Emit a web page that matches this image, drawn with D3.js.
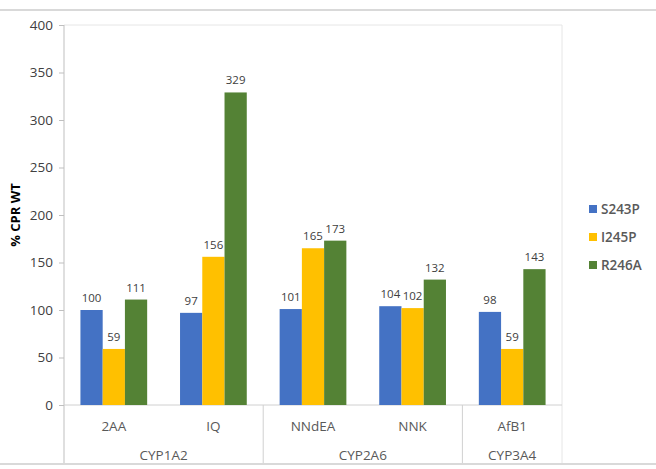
<!DOCTYPE html>
<html>
<head>
<meta charset="utf-8">
<script src="https://cdn.jsdelivr.net/npm/d3@7"></script>
<style>
  body { margin: 0; background: #fff; }
  text { font-family: "Open Sans", "Noto Sans", sans-serif; }
</style>
</head>
<body>
<div id="chart"></div>
<script>
// chart data
var substrates = ['2AA', 'IQ', 'NNdEA', 'NNK', 'AfB1'];
var enzymes = ['CYP1A2', 'CYP1A2', 'CYP2A6', 'CYP2A6', 'CYP3A4'];
var seriesNames = ['S243P', 'I245P', 'R246A'];
var s243p = [100, 97, 101, 104, 98];
var i245p = [59, 156, 165, 102, 59];
var r246a = [111, 329, 173, 132, 143];
var yTicks = [0, 50, 100, 150, 200, 250, 300, 350, 400];
var colors = ['#4472C4', '#FFC000', '#548235'];

function drawChart() {
	var W = 656, H = 469;
	var left = 64, right = 562, top = 25, bottom = 405, axisBottom = 463;

	var svg = d3.select('#chart').append('svg')
		.attr('width', W)
		.attr('height', H);

	// frame lines of the screenshot
	svg.append('line').attr('x1', 0).attr('x2', W).attr('y1', 10).attr('y2', 10)
		.style('stroke', '#d9d9d9').style('stroke-width', 2);
	svg.append('line').attr('x1', 0).attr('x2', W).attr('y1', 464).attr('y2', 464)
		.style('stroke', '#d9d9d9').style('stroke-width', 2);

	var x0 = d3.scaleBand().domain(substrates).range([left, right]).paddingInner(0.33).paddingOuter(0.165);
	var x1 = d3.scaleBand().domain(seriesNames).range([0, x0.bandwidth()]);
	var y = d3.scaleLinear().domain([0, 400]).range([bottom, top]);

	// plot border (top / right)
	svg.append('path')
		.attr('d', 'M' + left + ',' + top + 'H' + right + 'V' + axisBottom)
		.style('fill', 'none').style('stroke', '#e6e6e6');

	// y axis
	var yAxis = svg.append('g')
		.attr('transform', 'translate(' + left + ',0)')
		.call(d3.axisLeft(y).tickValues(yTicks).tickSize(5).tickPadding(6));
	yAxis.select('.domain').remove();
	yAxis.selectAll('line').style('stroke', '#bfbfbf');
	yAxis.selectAll('text').style('font-size', '13.5px').style('fill', '#404040');
	svg.append('line').attr('x1', left).attr('x2', left).attr('y1', top).attr('y2', axisBottom)
		.style('stroke', '#bfbfbf');
	svg.append('line').attr('x1', left).attr('x2', right).attr('y1', bottom).attr('y2', bottom)
		.style('stroke', '#d0d0d0');

	svg.append('text')
		.attr('transform', 'translate(20,' + ((top + bottom) / 2) + ') rotate(-90)')
		.attr('text-anchor', 'middle')
		.style('font-size', '13px').style('font-weight', 'bold').style('fill', '#000')
		.text('% CPR WT');

	// bars
	var rows = substrates.map(function(s, i) {
		return { name: s, vals: [s243p[i], i245p[i], r246a[i]] };
	});
	var groups = svg.selectAll('.grp')
		.data(rows)
		.enter()
		.append('g')
			.attr('class', 'grp')
			.attr('transform', function(d) { return 'translate(' + x0(d.name) + ',0)'; });

	groups.selectAll('rect')
		.data(function(d) { return d.vals.map(function(v, j) { return { k: seriesNames[j], v: v, j: j }; }); })
		.enter()
		.append('rect')
			.attr('x', function(d) { return x1(d.k); })
			.attr('y', function(d) { return y(d.v); })
			.attr('width', x1.bandwidth())
			.attr('height', function(d) { return bottom - y(d.v); })
			.style('fill', function(d) { return colors[d.j]; });

	groups.selectAll('.lbl')
		.data(function(d) { return d.vals.map(function(v, j) { return { k: seriesNames[j], v: v }; }); })
		.enter()
		.append('text')
			.attr('class', 'lbl')
			.attr('x', function(d) { return x1(d.k) + x1.bandwidth() / 2; })
			.attr('y', function(d) { return y(d.v) - 8; })
			.attr('text-anchor', 'middle')
			.style('font-size', '11.5px').style('fill', '#404040')
			.text(function(d) { return d.v; });

	// category labels
	svg.selectAll('.sub')
		.data(substrates)
		.enter()
		.append('text')
			.attr('x', function(d) { return x0(d) + x0.bandwidth() / 2; })
			.attr('y', 431)
			.attr('text-anchor', 'middle')
			.style('font-size', '13.5px').style('fill', '#595959')
			.text(function(d) { return d; });

	// enzyme groups
	var enzGroups = [];
	enzymes.forEach(function(e, i) {
		var last = enzGroups[enzGroups.length - 1];
		if (last && last.name === e) { last.end = substrates[i]; }
		else { enzGroups.push({ name: e, start: substrates[i], end: substrates[i] }); }
	});
	var step = x0.step();
	enzGroups.forEach(function(g, i) {
		var gx0 = x0(g.start) - step * x0.paddingInner() / 2;
		var gx1 = x0(g.end) + x0.bandwidth() + step * x0.paddingInner() / 2;
		if (i === 0) gx0 = left;
		if (i === enzGroups.length - 1) gx1 = right;
		if (i > 0) {
			svg.append('line').attr('x1', gx0).attr('x2', gx0).attr('y1', bottom).attr('y2', axisBottom)
				.style('stroke', '#d0d0d0');
		}
		svg.append('text')
			.attr('x', (gx0 + gx1) / 2)
			.attr('y', 460)
			.attr('text-anchor', 'middle')
			.style('font-size', '13.5px').style('fill', '#595959')
			.text(g.name);
	});

	// legend
	var legend = svg.selectAll('.leg')
		.data(seriesNames)
		.enter()
		.append('g')
			.attr('transform', function(d, i) { return 'translate(589,' + (205 + i * 28) + ')'; });
	legend.append('rect').attr('width', 8).attr('height', 8)
		.style('fill', function(d, i) { return colors[i]; });
	legend.append('text').attr('x', 12).attr('y', 9)
		.style('font-size', '13.5px').style('font-weight', '600').style('fill', '#595959')
		.text(function(d) { return d; });
}

drawChart();
</script>
</body>
</html>
